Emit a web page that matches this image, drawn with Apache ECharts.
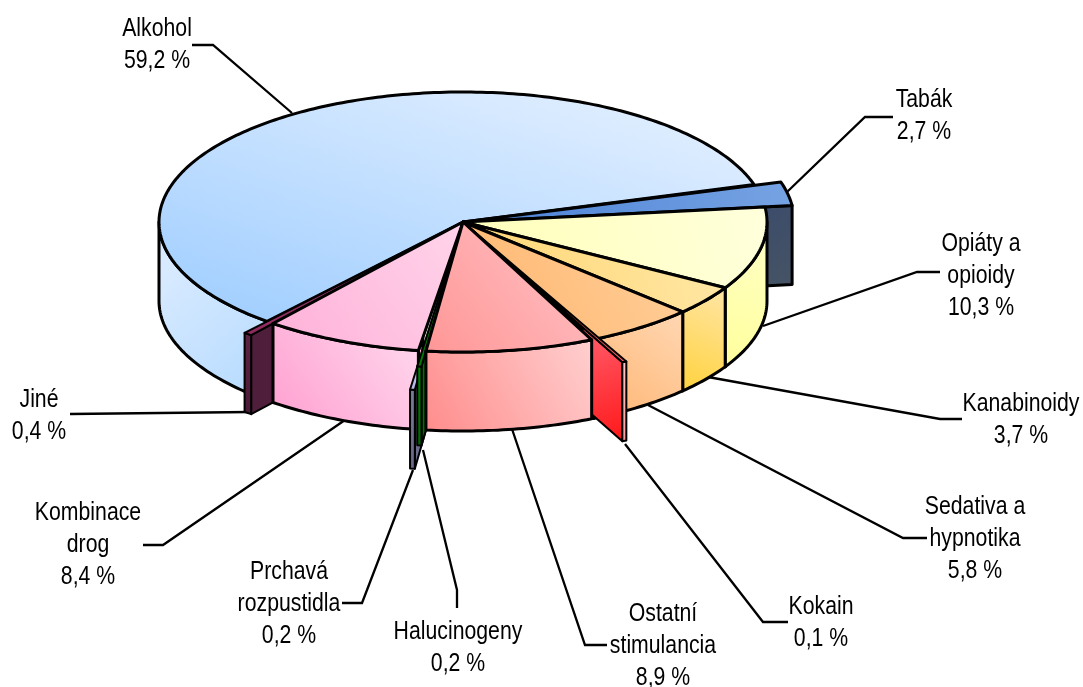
<!DOCTYPE html>
<html>
<head>
<meta charset="utf-8">
<style>
  html, body { margin: 0; padding: 0; background: #fff; }
  #chart { width: 1083px; height: 687px; }
</style>
</head>
<body>
<div id="chart"></div>
<script src="https://cdn.jsdelivr.net/npm/echarts@6/dist/echarts.min.js"></script>
<script>
// data, clockwise on screen, starting with Tabák
const categories = ['Tabák', 'Opiáty a\nopioidy', 'Kanabinoidy', 'Sedativa a\nhypnotika', 'Kokain',
  'Ostatní\nstimulancia', 'Halucinogeny', 'Prchavá\nrozpustidla', 'Kombinace\ndrog', 'Jiné', 'Alkohol'];
const values = [2.7, 10.3, 3.7, 5.8, 0.1, 8.9, 0.2, 0.2, 8.4, 0.4, 59.2];
// how far each slice reaches past the rim of the pie
const reach = [1.09, 1, 1, 1, 1.2, 1, 1.12, 1.3, 1, 1.115, 1];
// tiny slices are drawn a bit wider so they stay visible: [start, end] offset in degrees
const thinNudge = {4: [-1.2, -0.86], 7: [-0.72, -0.74]};

// painter's order, back to front (indexes into the arrays above)
const drawOrder = [10, 0, 1, 2, 3, 4, 9, 8, 7, 6, 5];

// [top dark, top light], [wall dark, wall light], cut face
const sliceColors = [
  [['#4a80d6', '#76a3e2'], ['#3a4a66', '#465468'], ['#465464', '#3a4a6c']],
  [['#ffffb8', '#ffffdc'], ['#ffff9c', '#ffffc8'], '#ffffa8'],
  [['#ffd570', '#ffe8a8'], ['#ffd23c', '#ffe6a8'], '#ffd860'],
  [['#ffb56c', '#ffd09c'], ['#ffb470', '#ffd8b4'], '#ffb878'],
  [['#ff4040', '#ff8080'], ['#ff9c9c', '#ffc4c4'], ['#ff1818', '#ff6070']],
  [['#ff9696', '#ffc4c8'], ['#ff8c8c', '#ffd0d0'], '#ff9c9c'],
  [['#007800', '#009000'], ['#006800', '#008000'], '#007000'],
  [['#b8b8e8', '#d8d8f8'], ['#66668a', '#7c7c9c'], '#6c6c8c'],
  [['#ffb0d8', '#ffd4ea'], ['#ff9ed0', '#ffdaee'], '#ffb0d8'],
  [['#8e2a5e', '#b03c78'], ['#4a1a36', '#5c2444'], '#4e1e3a'],
  [['#a4d0ff', '#dcecff'], ['#b4daff', '#d8eaff'], '#a8d2ff']
];
const alkoholIndex = 10;

// label centres and leader lines, same order as categories
const labelAt = [[924, 116], [981, 276], [1021, 420], [975, 539], [821, 623],
  [663, 646], [458, 648], [289, 604], [88, 545], [39, 416], [157, 45]];
const leaders = [
  [[787, 192], [865, 117], [893, 117]],
  [[763, 326], [917, 272], [940, 272]],
  [[708, 377], [940, 419], [962, 419]],
  [[648, 405], [903, 538], [927, 538]],
  [[625, 444], [763, 622], [788, 622]],
  [[512, 429], [585, 645], [607, 645]],
  [[423, 450], [457, 590], [457, 608]],
  [[413, 470], [362, 603], [342, 603]],
  [[345, 420], [163, 545], [143, 545]],
  [[250, 412], [70, 414]],
  [[292, 113], [213, 45], [192, 45]]
];

const cx = 463, cy = 222, rx = 304, ry = 130, depth = 79;
const startAngle = -16.4;

let acc = startAngle;
const spans = values.map((v, i) => {
  const from = acc;
  acc += v * 3.6;
  const nudge = thinNudge[i] || [0, 0];
  return [from + nudge[0], acc + nudge[1]];
});

const pt = (deg, r, drop) => {
  const a = deg * Math.PI / 180;
  return [cx + rx * r * Math.cos(a), cy + ry * r * Math.sin(a) + (drop || 0)];
};

const arc = (from, to, r, drop) => {
  const pts = [];
  const n = Math.max(1, Math.ceil(Math.abs(to - from)));
  for (let k = 0; k <= n; k++) {
    pts.push(pt(from + (to - from) * k / n, r, drop));
  }
  return pts;
};

const grad = (c, dir) => Array.isArray(c)
  ? new echarts.graphic.LinearGradient(dir[0], dir[1], dir[2], dir[3], [{offset: 0, color: c[0]}, {offset: 1, color: c[1]}])
  : c;

const poly = (points, fill, dir, lineWidth) => ({
  type: 'polygon',
  shape: {points},
  style: {fill: grad(fill, dir || [0, 1, 1, 0]), stroke: '#000', lineWidth: lineWidth, lineJoin: 'round'}
});

// one slice = radial faces + outer wall + top
const renderSlice = (params, api) => {
  const i = api.value(0);
  const [from, to] = spans[i];
  const r = reach[i];
  const col = sliceColors[i];
  const lw = values[i] < 0.5 ? 2 : 3;
  const kids = [];
  // the inner part of a cut face is always hidden by the next slice
  const face = deg => poly([pt(deg, 0.9), pt(deg, r), pt(deg, r, depth), pt(deg, 0.9, depth)], col[2], [1, 1, 0, 0], lw);

  // a cut face only shows when it turns towards the viewer
  if (from > 90 && from < 270) kids.push(face(from));
  if (to > -90 && to < 90) kids.push(face(to));

  const wallFrom = Math.max(from, 0), wallTo = Math.min(to, 180);
  if (wallTo > wallFrom) {
    kids.push(poly(arc(wallFrom, wallTo, r).concat(arc(wallTo, wallFrom, r, depth)), col[1],
      i === alkoholIndex ? [1, 1, 0, 0.3] : null, lw));
  }
  kids.push(poly([pt(0, 0)].concat(arc(from, to, r)), col[0],
    i === alkoholIndex ? [0.18, 0.97, 0.33, -0.25] : null, lw));
  return {type: 'group', children: kids};
};

const chart = echarts.init(document.getElementById('chart'));

const leaderEls = leaders.map(points => ({
  type: 'polyline',
  shape: {points},
  style: {stroke: '#000', lineWidth: 2.3, fill: null},
  z: 1
}));

const labelEls = categories.map((name, i) => ({
  type: 'text',
  x: labelAt[i][0],
  y: labelAt[i][1],
  scaleX: 0.85,
  style: {
    text: name + '\n' + String(values[i]).replace('.', ',') + ' %',
    font: '25px "Liberation Sans", Arial, sans-serif',
    lineHeight: 32,
    fill: '#000',
    align: 'center',
    verticalAlign: 'middle'
  },
  z: 2
}));

chart.setOption({
  animation: false,
  graphic: {elements: leaderEls.concat(labelEls)},
  series: [{
    type: 'custom',
    coordinateSystem: 'none',
    silent: true,
    z: 5,
    renderItem: renderSlice,
    data: drawOrder.map(i => ({name: categories[i], value: [i, values[i]]}))
  }]
});
</script>
</body>
</html>
